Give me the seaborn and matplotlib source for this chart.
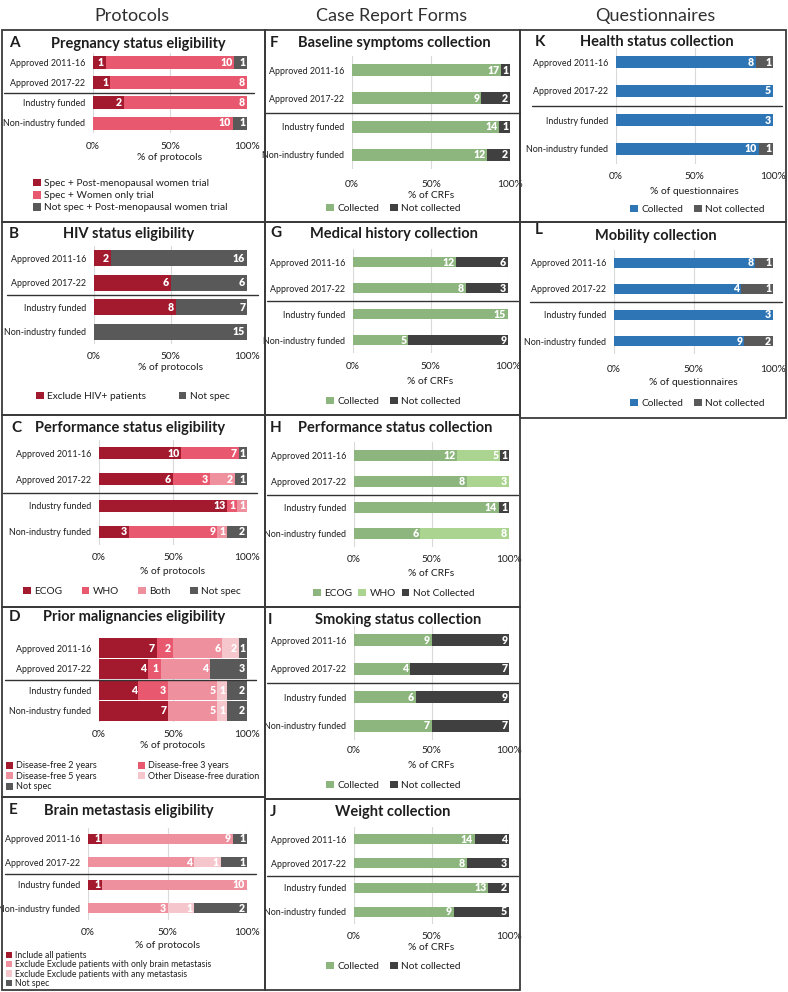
import matplotlib
matplotlib.use("Agg")
import matplotlib.pyplot as plt
import seaborn as sns
import numpy as np
from matplotlib.patches import Rectangle, Patch

sns.set_theme(style="white")
plt.rcParams["font.family"] = ["Lato", "DejaVu Sans"]

W, H = 788, 992
fig = plt.figure(figsize=(W / 100, H / 100), dpi=100)

# ---------------- data ----------------
groups = ["Approved 2011-16", "Approved 2017-22", "Industry funded", "Non-industry funded"]

preg_names = ["Spec + Post-menopausal women trial", "Spec + Women only trial",
              "Not spec + Post-menopausal women trial"]
preg_spec_postmeno = [1, 1, 2, 0]
preg_spec_women = [10, 8, 8, 10]
preg_notspec_postmeno = [1, 0, 0, 1]

hiv_names = ["Exclude HIV+ patients", "Not spec"]
hiv_exclude = [2, 6, 8, 0]
hiv_notspec = [16, 6, 7, 15]

pse_names = ["ECOG", "WHO", "Both", "Not spec"]
pse_ecog = [10, 6, 13, 3]
pse_who = [7, 3, 1, 9]
pse_both = [0, 2, 1, 1]
pse_notspec = [1, 1, 0, 2]

pm_names = ["Disease-free 2 years", "Disease-free 3 years", "Disease-free 5 years",
            "Other Disease-free duration", "Not spec"]
pm_df2 = [7, 4, 4, 7]
pm_df3 = [2, 1, 3, 0]
pm_df5 = [6, 4, 5, 5]
pm_other = [2, 0, 1, 1]
pm_notspec = [1, 3, 2, 2]

bm_names = ["Include all patients", "Exclude Exclude patients with only brain metastasis",
            "Exclude Exclude patients with any metastasis", "Not spec"]
bm_include = [1, 0, 1, 0]
bm_excl_brain = [9, 4, 10, 3]
bm_excl_any = [0, 1, 0, 1]
bm_notspec = [1, 1, 0, 2]

coll_names = ["Collected", "Not collected"]
bs_collected = [17, 9, 14, 12]
bs_not = [1, 2, 1, 2]
mh_collected = [12, 8, 15, 5]
mh_not = [6, 3, 0, 9]

psc_names = ["ECOG", "WHO", "Not Collected"]
psc_ecog = [12, 8, 14, 6]
psc_who = [5, 3, 0, 8]
psc_not = [1, 0, 1, 0]

sm_collected = [9, 4, 6, 7]
sm_not = [9, 7, 9, 7]
wt_collected = [14, 8, 13, 9]
wt_not = [4, 3, 2, 5]

hs_collected = [8, 5, 3, 10]
hs_not = [1, 0, 0, 1]
mob_collected = [8, 4, 3, 9]
mob_not = [1, 1, 0, 2]

headers = ["Protocols", "Case Report Forms", "Questionnaires"]

# ---------------- colours ----------------
RED = "#A31A2F"
PINK = "#E8586E"
PINK2 = "#EE909E"
PINK3 = "#F6C6CD"
GREY_L = "#595959"
GREY_D = "#404040"
GREEN = "#8DB57E"
GREEN_L = "#ABD490"
BLUE = "#2E75B6"
TXT = "#1e1e1e"
BORDER = "#3a3a3a"


def fy(y):
    return 1 - y / H


def panel(letter, letter_xy, title, title_cx, title_y, axbox, series, colors,
          xlabel, tick_y, xlabel_y, bar_h, sep_x, leg_names, leg_colors, leg_xy,
          leg_ncol, leg_fs=7.0, leg_colsp=1.0, leg_lsp=0.3, val_fs=7.6, cat_fs=6.4):
    x0, x1, y0, y1 = axbox
    ax = fig.add_axes([x0 / W, fy(y1), (x1 - x0) / W, (y1 - y0) / H])
    vals = np.array(series, dtype=float)
    tot = vals.sum(axis=0)
    cum = np.cumsum(vals, axis=0) / tot * 100
    for k in range(len(series) - 1, -1, -1):
        sns.barplot(x=cum[k], y=groups, orient="h", color=colors[k], width=bar_h,
                    saturation=1, errorbar=None, ax=ax, zorder=3, linewidth=0,
                    edgecolor="none")
    for k in range(len(series)):
        for i in range(len(groups)):
            v = int(vals[k, i])
            if v > 0:
                ax.annotate(str(v), (cum[k, i], i), xytext=(-1.3, 0), textcoords="offset points",
                            ha="right", va="center", color="white", fontweight="heavy",
                            fontsize=val_fs, zorder=5)
    ax.set_xlim(0, 100)
    ax.set_ylim(3.5, -0.5)
    ax.set_xticks([0, 50, 100])
    ax.set_xticklabels(["0%", "50%", "100%"])
    ax.grid(axis="x", color="#d9d9d9", lw=0.8, zorder=0)
    ax.grid(axis="y", visible=False)
    ax.set_axisbelow(True)
    for s in ax.spines.values():
        s.set_visible(False)
    ax_h = y1 - y0
    ax.tick_params(axis="x", length=0, labelsize=7.3, colors=TXT,
                   pad=max(0.5, (tick_y - 5 - y1) * 0.72))
    ax.tick_params(axis="y", length=0, labelsize=cat_fs, colors=TXT, pad=5.5)
    ax.set_ylabel("")
    ax.set_xlabel(xlabel, fontsize=7.4, color=TXT)
    ax.xaxis.set_label_coords(0.5, -((xlabel_y - 5.5) - y1) / ax_h)
    # separator between approval period and funding groups
    xa = (sep_x[0] - x0) / (x1 - x0)
    xb = (sep_x[1] - x0) / (x1 - x0)
    ax.axhline(1.5, xmin=xa, xmax=xb, color="#333333", lw=1.0, clip_on=False, zorder=4)
    # titles
    fig.text(letter_xy[0] / W, fy(letter_xy[1]), letter, fontsize=11, fontweight="bold",
             color=TXT, ha="left", va="center")
    fig.text(title_cx / W, fy(title_y), title, fontsize=10.5, fontweight="bold",
             color=TXT, ha="center", va="center")
    handles = [Patch(facecolor=c, edgecolor="none") for c in leg_colors]
    ax.legend(handles, leg_names, loc="upper left",
              bbox_to_anchor=(leg_xy[0] / W, fy(leg_xy[1])), bbox_transform=fig.transFigure,
              ncol=leg_ncol, frameon=False, fontsize=leg_fs, handlelength=0.75,
              handleheight=0.75, handletextpad=0.35, columnspacing=leg_colsp,
              labelspacing=leg_lsp, borderaxespad=0, borderpad=0, labelcolor=TXT)
    return ax


# ---------- Protocols ----------
panel("A", (9, 43), "Pregnancy status eligibility", 138, 44, (93, 247, 53, 133),
      [preg_spec_postmeno, preg_spec_women, preg_notspec_postmeno], [RED, PINK, GREY_L],
      "% of protocols", 147, 159, 0.65, (4, 254),
      preg_names, [RED, PINK, GREY_L], (33, 179), 1, leg_fs=7.3, leg_lsp=0.28)

panel("B", (9, 234), "HIV status eligibility", 129, 234, (94, 247, 246, 344),
      [hiv_exclude, hiv_notspec], [RED, GREY_L],
      "% of protocols", 357, 368, 0.65, (7, 258),
      hiv_names, [RED, GREY_L], (36, 392), 2, leg_fs=7.3, leg_colsp=3.2)

panel("C", (11, 428), "Performance status eligibility", 130, 428, (99, 247, 440, 545),
      [pse_ecog, pse_who, pse_both, pse_notspec], [RED, PINK, PINK2, GREY_L],
      "% of protocols", 558, 573, 0.45, (3, 257),
      pse_names, [RED, PINK, PINK2, GREY_L], (23, 587), 4, leg_fs=7.3, leg_colsp=1.9)

panel("D", (9, 617), "Prior malignancies eligibility", 134, 617, (99, 247, 637.5, 721.5),
      [pm_df2, pm_df3, pm_df5, pm_other, pm_notspec], [RED, PINK, PINK2, PINK3, GREY_L],
      "% of protocols", 735, 747, 0.92, (5, 256),
      [pm_names[0], pm_names[2], pm_names[4], pm_names[1], pm_names[3]],
      [RED, PINK2, GREY_L, PINK, PINK3], (6, 761.5), 2, leg_fs=6.5, leg_colsp=4.6, leg_lsp=0.16)

panel("E", (9, 810), "Brain metastasis eligibility", 129, 811, (88, 247, 827.5, 919.5),
      [bm_include, bm_excl_brain, bm_excl_any, bm_notspec], [RED, PINK2, PINK3, GREY_L],
      "% of protocols", 933, 947, 0.42, (5, 256),
      bm_names, [RED, PINK2, PINK3, GREY_L], (6, 951), 1, leg_fs=6.2, leg_lsp=0.03)

# ---------- Case Report Forms ----------
panel("F", (270, 43), "Baseline symptoms collection", 394, 43, (352, 510, 56, 169),
      [bs_collected, bs_not], [GREEN, GREY_D],
      "% of CRFs", 185, 197, 0.42, (265, 520),
      coll_names, [GREEN, GREY_D], (326, 204), 2, leg_fs=7.3, leg_colsp=1.1)

panel("G", (270, 233), "Medical history collection", 394, 234, (353, 508, 249, 353),
      [mh_collected, mh_not], [GREEN, GREY_D],
      "% of CRFs", 367, 382, 0.42, (267, 518),
      coll_names, [GREEN, GREY_D], (326, 397), 2, leg_fs=7.3, leg_colsp=1.1)

panel("H", (270, 428), "Performance status collection", 395, 428, (354, 509, 442, 547),
      [psc_ecog, psc_who, psc_not], [GREEN, GREEN_L, GREY_D],
      "% of CRFs", 560, 575, 0.42, (267, 518),
      psc_names, [GREEN, GREEN_L, GREY_D], (313, 589), 3, leg_fs=7.3, leg_colsp=0.6)

panel("I", (268, 620), "Smoking status collection", 398, 620, (354, 509, 626, 740),
      [sm_collected, sm_not], [GREEN, GREY_D],
      "% of CRFs", 751, 767, 0.42, (267, 518),
      coll_names, [GREEN, GREY_D], (326, 781), 2, leg_fs=7.3, leg_colsp=1.1)

panel("J", (270, 812), "Weight collection", 393, 812, (354, 509, 827, 924),
      [wt_collected, wt_not], [GREEN, GREY_D],
      "% of CRFs", 937, 949, 0.42, (267, 518),
      coll_names, [GREEN, GREY_D], (326, 962), 2, leg_fs=7.3, leg_colsp=1.1)

# ---------- Questionnaires ----------
panel("K", (535, 42), "Health status collection", 657, 42, (616, 773, 47.5, 163.5),
      [hs_collected, hs_not], [BLUE, GREY_L],
      "% of questionnaires", 177, 192, 0.42, (532, 782),
      coll_names, [BLUE, GREY_L], (630, 205), 2, leg_fs=7.3, leg_colsp=1.1)

panel("L", (535, 230), "Mobility collection", 656, 236, (614, 773, 250, 354),
      [mob_collected, mob_not], [BLUE, GREY_L],
      "% of questionnaires", 370, 383, 0.42, (530, 782),
      coll_names, [BLUE, GREY_L], (630, 399), 2, leg_fs=7.3, leg_colsp=1.1)

# ---------- column headers ----------
for txt, cx in zip(headers, [132, 392, 655]):
    fig.text(cx / W, fy(16), txt, fontsize=13, fontweight="normal", color="#303030",
             ha="center", va="center")

# ---------- panel borders ----------
boxes = [(2, 30, 265, 222), (2, 222, 265, 415), (2, 415, 265, 607), (2, 607, 265, 797),
         (2, 797, 265, 990),
         (265, 30, 520, 222), (265, 222, 520, 415), (265, 415, 520, 607), (265, 607, 520, 799),
         (265, 799, 520, 990),
         (520, 30, 786, 222), (520, 222, 786, 418)]
for bx0, by0, bx1, by1 in boxes:
    fig.add_artist(Rectangle((bx0 / W, fy(by1)), (bx1 - bx0) / W, (by1 - by0) / H,
                             transform=fig.transFigure, fill=False, edgecolor=BORDER, lw=1.3))

fig.savefig("out.png", dpi=100)
